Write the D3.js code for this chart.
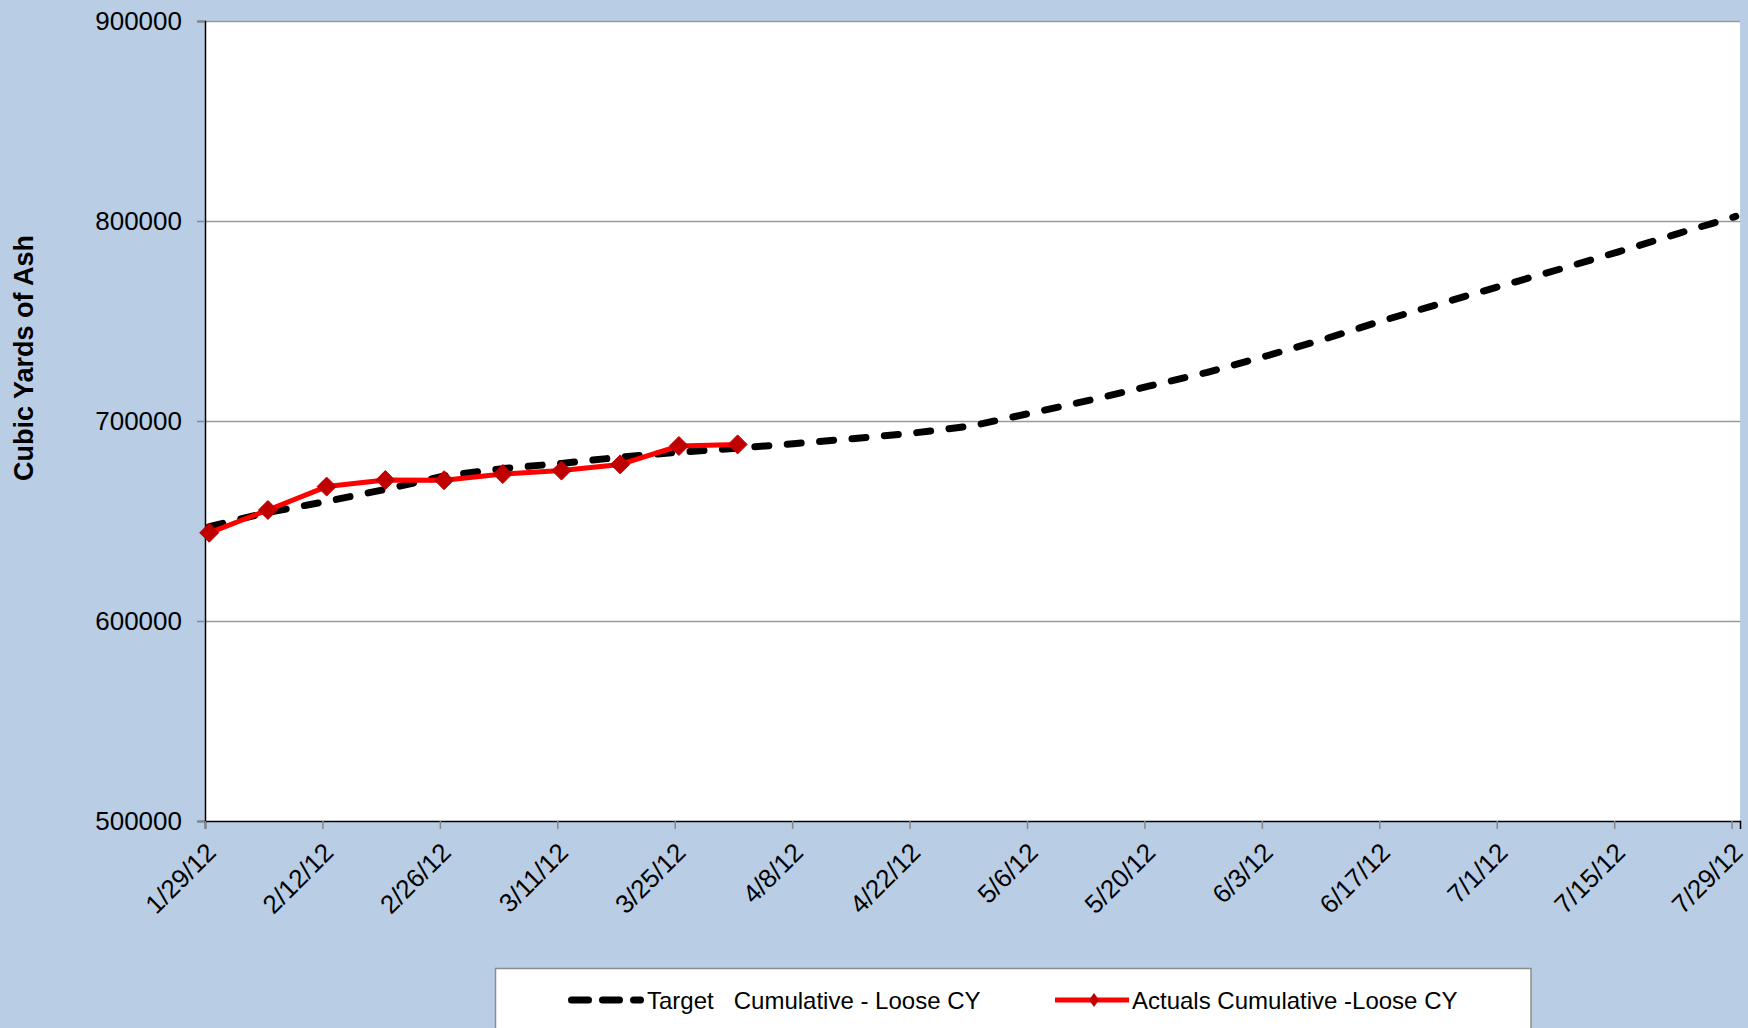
<!DOCTYPE html>
<html>
<head>
<meta charset="utf-8">
<script src="https://cdn.jsdelivr.net/npm/d3@7"></script>
<style>
  html, body { margin: 0; padding: 0; background: #B9CDE5; }
  svg { display: block; font-family: "Liberation Sans", Arial, sans-serif; }
</style>
</head>
<body>
<svg id="chart" width="1748" height="1028"></svg>
<script>
// ---------- data ----------
const targetDates = ["1/29/12","2/5/12","2/12/12","2/19/12","2/26/12","3/4/12","3/11/12","3/18/12","3/25/12",
  "4/1/12","4/8/12","4/15/12","4/22/12","4/29/12","5/6/12","5/13/12","5/20/12","5/27/12","6/3/12",
  "6/10/12","6/17/12","6/24/12","7/1/12","7/8/12","7/15/12","7/22/12","7/29/12"];
const targetValues = [647200, 654300, 659800, 665800, 672500, 676200, 678800, 681900, 684400,
  686400, 688800, 691300, 694000, 697600, 704000, 710400, 717400, 724300, 732500,
  741000, 750300, 759000, 767500, 775900, 784600, 793600, 802300];

const actualDates = ["1/29/12","2/5/12","2/12/12","2/19/12","2/26/12","3/4/12","3/11/12","3/18/12","3/25/12","4/1/12"];
const actualValues = [644100, 655500, 667200, 670500, 670400, 673500, 675200, 678300, 687500, 688300];

const xTickLabels = ["1/29/12","2/12/12","2/26/12","3/11/12","3/25/12","4/8/12","4/22/12","5/6/12",
  "5/20/12","6/3/12","6/17/12","7/1/12","7/15/12","7/29/12"];
const xDomainLabels = ["1/29/12", "7/30/12"];
const yTicks = [500000, 600000, 700000, 800000, 900000];
const yDomain = [500000, 900000];

const seriesNames = ["Target   Cumulative - Loose CY", "Actuals Cumulative -Loose CY"];
const yTitle = "Cubic Yards of Ash";

// ---------- setup ----------
const parse = d3.utcParse("%m/%d/%y");
const fmt = d3.utcFormat("%-m/%-d/%y");
const svg = d3.select("#chart");

const L = 205, R = 1740, T = 21, B = 821;

const x = d3.scaleUtc().domain(xDomainLabels.map(parse)).range([L, R]);
const y = d3.scaleLinear().domain(yDomain).range([B, T]);
// Excel date axis: points sit in the middle of their day slot
const xp = d => x(d3.utcHour.offset(d, 12));

const target = targetDates.map((d, i) => ({ date: parse(d), value: targetValues[i] }));
const actual = actualDates.map((d, i) => ({ date: parse(d), value: actualValues[i] }));

// plot area
svg.append("rect").attr("x", L).attr("y", T).attr("width", R - L).attr("height", B - T).attr("fill", "#ffffff");

// gridlines
svg.append("g")
  .attr("transform", `translate(${L},0)`)
  .call(d3.axisLeft(y).tickValues(yTicks.filter(v => v !== yDomain[0])).tickSize(-(R - L)).tickFormat(""))
  .call(g => g.select(".domain").remove())
  .call(g => g.selectAll("line").attr("stroke", "#9a9a9a").attr("stroke-width", 1.5));

// y axis
svg.append("g")
  .attr("transform", `translate(${L},0)`)
  .call(d3.axisLeft(y).tickValues(yTicks).tickSize(8).tickPadding(15).tickFormat(d3.format("d")))
  .call(g => g.select(".domain").attr("stroke", "#000").attr("stroke-width", 1.5))
  .call(g => g.selectAll(".tick line").attr("stroke", "#888").attr("stroke-width", 1.5))
  .call(g => g.selectAll(".tick text").attr("font-size", 26).attr("fill", "#000")
      .attr("font-family", "'Liberation Sans', Arial, sans-serif"));

// x axis
svg.append("g")
  .attr("transform", `translate(0,${B})`)
  .call(d3.axisBottom(x).tickValues(xTickLabels.map(parse)).tickSize(8).tickFormat(fmt))
  .call(g => g.select(".domain").attr("stroke", "#000").attr("stroke-width", 1.5))
  .call(g => g.selectAll(".tick line").attr("stroke", "#888").attr("stroke-width", 1.5))
  .call(g => g.selectAll(".tick text")
      .attr("font-size", 26).attr("fill", "#000")
      .attr("font-family", "'Liberation Sans', Arial, sans-serif")
      .attr("x", 0).attr("y", 0).attr("dy", null)
      .attr("text-anchor", "end")
      .attr("transform", "translate(12,33) rotate(-45)"));

// y title
svg.append("text")
  .attr("transform", "translate(33,358) rotate(-90)")
  .attr("text-anchor", "middle")
  .attr("font-size", 27).attr("font-weight", "bold").attr("fill", "#000")
  .text(yTitle);

// target line
const line = d3.line().x(d => xp(d.date)).y(d => y(d.value));
svg.append("path").datum(target)
  .attr("d", line)
  .attr("fill", "none").attr("stroke", "#000").attr("stroke-width", 7)
  .attr("stroke-dasharray", "14 18.5").attr("stroke-linecap", "round").attr("stroke-linejoin", "round");

// actual line
svg.append("path").datum(actual)
  .attr("d", line)
  .attr("fill", "none").attr("stroke", "#FF0000").attr("stroke-width", 5).attr("stroke-linejoin", "round");

const diamond = (cx, cy, r) => `M${cx},${cy - r}L${cx + r},${cy}L${cx},${cy + r}L${cx - r},${cy}Z`;
svg.append("g").selectAll("path").data(actual).join("path")
  .attr("d", d => diamond(xp(d.date), y(d.value), 9.5))
  .attr("fill", "#C00000").attr("stroke", "#C00000").attr("stroke-width", 1);

// legend
const lg = svg.append("g");
lg.append("rect").attr("x", 495.5).attr("y", 968.5).attr("width", 1035.5).attr("height", 80)
  .attr("fill", "#fff").attr("stroke", "#8c8c8c").attr("stroke-width", 1.5);
lg.append("path").attr("d", "M571.5,1000H640.5")
  .attr("stroke", "#000").attr("stroke-width", 7).attr("stroke-linecap", "round")
  .attr("stroke-dasharray", "17 14").attr("fill", "none");
lg.append("text").attr("x", 647).attr("y", 1008.5).attr("font-size", 24).attr("fill", "#000")
  .attr("xml:space", "preserve").style("white-space", "pre").text(seriesNames[0]);
lg.append("path").attr("d", "M1055,1000H1129")
  .attr("stroke", "#FF0000").attr("stroke-width", 5).attr("fill", "none");
lg.append("path").attr("d", "M1094,993L1099,1000L1094,1007L1089,1000Z").attr("fill", "#C00000");
lg.append("text").attr("x", 1132).attr("y", 1008.5).attr("font-size", 24).attr("fill", "#000")
  .text(seriesNames[1]);
</script>
</body>
</html>
